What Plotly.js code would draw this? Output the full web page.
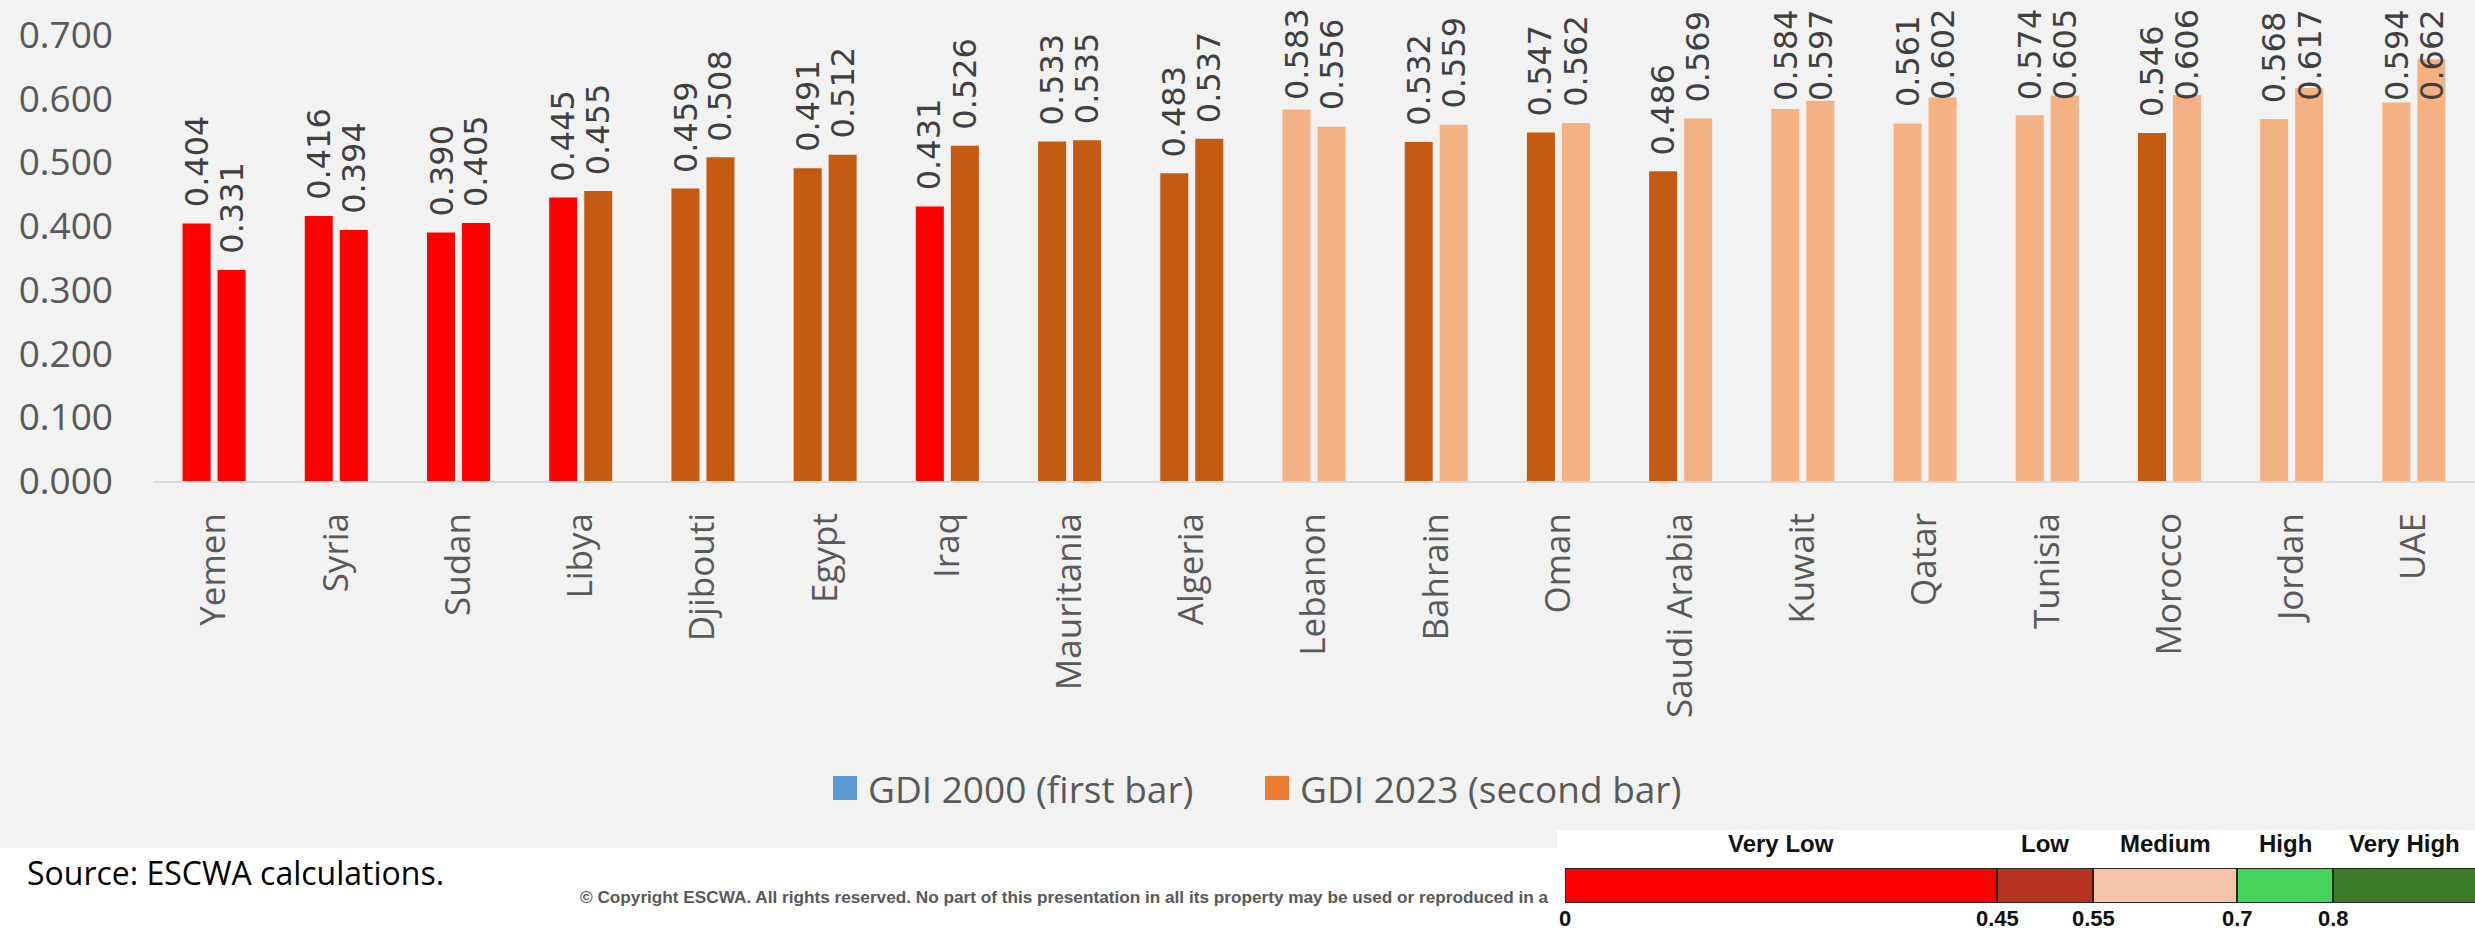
<!DOCTYPE html>
<html>
<head>
<meta charset="utf-8">
<script src="https://cdn.plot.ly/plotly-3.0.1.min.js"></script>
<style>html,body{margin:0;padding:0;background:#fff;}#chart{width:2475px;height:932px;}</style>
</head>
<body>
<div id="chart"></div>
<script>
// ---- data ----
const categories = ["Yemen","Syria","Sudan","Libya","Djibouti","Egypt","Iraq","Mauritania","Algeria","Lebanon","Bahrain","Oman","Saudi Arabia","Kuwait","Qatar","Tunisia","Morocco","Jordan","UAE"];
const gdi2000 = [0.404,0.416,0.390,0.445,0.459,0.491,0.431,0.533,0.483,0.583,0.532,0.547,0.486,0.584,0.561,0.574,0.546,0.568,0.594];
const gdi2023 = [0.331,0.394,0.405,0.455,0.508,0.512,0.526,0.535,0.537,0.556,0.559,0.562,0.569,0.597,0.602,0.605,0.606,0.617,0.662];
const seriesNames = ["GDI 2000 (first bar)","GDI 2023 (second bar)"];
const legendColors = ["#5B9BD5","#ED7D31"];
const yTicks = [0,0.1,0.2,0.3,0.4,0.5,0.6,0.7];
// GDI level scale
const levelNames = ["Very Low","Low","Medium","High","Very High"];
const levelBounds = [0,0.45,0.55,0.7,0.8,1.0];
const levelTickText = ["0","0.45","0.55","0.7","0.8"];
const levelColors = ["#FF0000","#B83220","#F7C4A8","#45D35B","#3B7A27"];
const barLevelColors = ["#FF0000","#C55A11","#F4B183","#45D35B","#3B7A27"];
const sourceText = "Source: ESCWA calculations.";
const copyrightText = "© Copyright ESCWA. All rights reserved. No part of this presentation in all its property may be used or reproduced in a";

// ---- layout helpers ----
const W=2475, H=932, ML=153, MR=0, MT=35, MB=0;
const PW=W-ML-MR, PH=H-MT-MB;
const px = x => (x-ML)/PW;
const py = y => (H-MB-y)/PH;
const SCALE_MAX = (W-1565)/960;

function levelIndex(v){
  for(let i=levelBounds.length-2;i>=0;i--){ if(v>=levelBounds[i]) return i; }
  return 0;
}
const col2000 = gdi2000.map(v=>barLevelColors[levelIndex(v)]);
const col2023 = gdi2023.map(v=>barLevelColors[levelIndex(v)]);

const traces = [
  {type:'bar', name:seriesNames[0], x:categories, y:gdi2000, marker:{color:col2000, line:{width:0}}, hoverinfo:'x+y', xaxis:'x', yaxis:'y'},
  {type:'bar', name:seriesNames[1], x:categories, y:gdi2023, marker:{color:col2023, line:{width:0}}, hoverinfo:'x+y', xaxis:'x', yaxis:'y'},
  {type:'bar', orientation:'h', x:levelBounds.slice(1).map((b,i)=>b-levelBounds[i]), base:levelBounds.slice(0,-1),
   y:levelNames.map(()=>0), width:1, marker:{color:levelColors, line:{color:'#262626', width:2}},
   xaxis:'x2', yaxis:'y2', hoverinfo:'skip'}
];

const annotations = [];
const LABEL_CAP = 0.572;
[gdi2000, gdi2023].forEach((vals, s)=>{
  vals.forEach((v,i)=>{
    annotations.push({x:categories[i], y:Math.min(v, LABEL_CAP), xref:'x', yref:'y',
      text:v.toFixed(3), showarrow:false, textangle:-90, xanchor:'center', yanchor:'bottom',
      xshift: s===0 ? -17.5 : 17.5, yshift:14,
      font:{family:'DejaVu Sans', size:32, color:'#404040'}});
  });
});
// level names above the scale bar
levelNames.forEach((n,i)=>{
  annotations.push({x:(levelBounds[i]+Math.min(levelBounds[i+1], SCALE_MAX))/2, xref:'x2', y:py(843), yref:'paper',
    text:'<b>'+n+'</b>', showarrow:false, xanchor:'center', yanchor:'middle',
    font:{family:'Liberation Sans Narrow, Liberation Sans, Arial', size:24, color:'#111'}});
});
// level boundary values below the scale bar
levelTickText.forEach((t,i)=>{
  annotations.push({x:levelBounds[i], xref:'x2', y:py(918), yref:'paper',
    text:'<b>'+t+'</b>', showarrow:false, xanchor:'center', yanchor:'middle',
    font:{family:'Liberation Sans', size:22, color:'#111'}});
});
// legend text
annotations.push({x:px(866), y:py(788), xref:'paper', yref:'paper', text:seriesNames[0], showarrow:false,
  xanchor:'left', yanchor:'middle', font:{family:'Open Sans', size:37, color:'#595959'}});
annotations.push({x:px(1298), y:py(788), xref:'paper', yref:'paper', text:seriesNames[1], showarrow:false,
  xanchor:'left', yanchor:'middle', font:{family:'Open Sans', size:37, color:'#595959'}});
// source & copyright
annotations.push({x:px(25), y:py(872), xref:'paper', yref:'paper', text:sourceText, showarrow:false,
  xanchor:'left', yanchor:'middle', font:{family:'Open Sans', size:32, color:'#000'}});
annotations.push({x:px(578), y:py(897), xref:'paper', yref:'paper', text:'<b>'+copyrightText+'</b>', showarrow:false,
  xanchor:'left', yanchor:'middle', font:{family:'Liberation Sans', size:17.2, color:'#595959'}});

const shapes = [
  {type:'rect', xref:'paper', yref:'paper', x0:px(0), x1:px(W), y0:py(848), y1:py(0), fillcolor:'#F2F2F2', line:{width:0}, layer:'below'},
  {type:'rect', xref:'paper', yref:'paper', x0:px(1557), x1:px(W), y0:py(H), y1:py(830), fillcolor:'#FFFFFF', line:{width:0}, layer:'below'},
  {type:'rect', xref:'paper', yref:'paper', x0:px(833), x1:px(857), y0:py(800), y1:py(776), fillcolor:legendColors[0], line:{width:0}},
  {type:'rect', xref:'paper', yref:'paper', x0:px(1265), x1:px(1289), y0:py(800), y1:py(776), fillcolor:legendColors[1], line:{width:0}}
];

const layout = {
  width:W, height:H,
  margin:{l:ML, r:MR, t:MT, b:MB, pad:0},
  paper_bgcolor:'#FFFFFF', plot_bgcolor:'rgba(0,0,0,0)',
  showlegend:false,
  barmode:'group', bargap:0.427, bargroupgap:0.2,
  xaxis:{type:'category', domain:[0,1], anchor:'y', showgrid:false, zeroline:false,
    showline:true, linecolor:'#D9D9D9', linewidth:2, ticks:'', tickangle:-90, ticklabelstandoff:16,
    tickfont:{family:'Open Sans', size:35, color:'#595959'}, automargin:false, fixedrange:true},
  yaxis:{domain:[py(481),1], anchor:'x', range:[0,0.7], tickvals:yTicks, tickformat:'.3f', showgrid:false,
    zeroline:false, showline:false, ticks:'', ticklabelstandoff:39,
    tickfont:{family:'Open Sans', size:37, color:'#595959'}, automargin:false, fixedrange:true},
  xaxis2:{domain:[px(1565),1], anchor:'y2', range:[0,SCALE_MAX], showgrid:false, zeroline:false, showline:false,
    showticklabels:false, ticks:'', automargin:false, fixedrange:true},
  yaxis2:{domain:[py(903),py(868)], anchor:'x2', range:[-0.5,0.5], visible:false, fixedrange:true},
  annotations:annotations,
  shapes:shapes
};

Plotly.newPlot('chart', traces, layout, {displayModeBar:false, staticPlot:true});
</script>
</body>
</html>
